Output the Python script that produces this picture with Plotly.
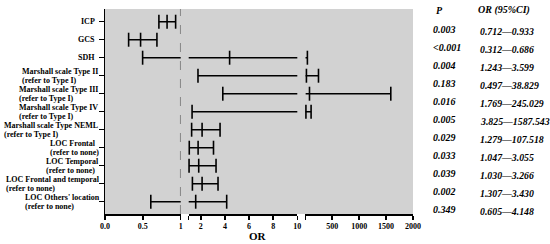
import plotly.graph_objects as go

# ---------------- data ----------------
row_labels = [
    "ICP",
    "GCS",
    "SDH",
    "Marshall scale Type II<br>(refer to Type I)",
    "Marshall scale Type III<br>(refer to Type I)",
    "Marshall scale Type IV<br>(refer to Type I)",
    "Marshall scale Type NEML<br>(refer to Type I)",
    "LOC Frontal<br>(refer to none)",
    "LOC Temporal<br>(refer to none)",
    "LOC Frontal and temporal<br>(refer to none)",
    "LOC Others' location<br>(refer to none)",
]
or_vals = [0.82, 0.47, 4.39, 20.8, 77.9, 11.7, 2.11, 1.78, 1.83, 2.11, 1.58]
ci_low = [0.712, 0.312, 0.497, 1.769, 3.825, 1.279, 1.243, 1.047, 1.030, 1.307, 0.605]
ci_high = [0.933, 0.686, 38.829, 245.029, 1587.543, 107.518, 3.599, 3.055, 3.266, 3.430, 4.148]
p_text = ["0.003", "<0.001", "0.004", "0.183", "0.016", "0.005",
          "0.029", "0.033", "0.039", "0.002", "0.349"]
ci_text = ["0.712\u20140.933", "0.312\u20140.686", "1.243\u20143.599",
           "0.497\u201438.829", "1.769\u2014245.029", "3.825\u20141587.543",
           "1.279\u2014107.518", "1.047\u20143.055", "1.030\u20143.266",
           "1.307\u20143.430", "0.605\u20144.148"]

seg1_ticks = [0, 0.5, 1]
seg1_text = ["0.0", "0.5", "1"]
seg2_ticks = [1, 2, 4, 6, 8, 10]
seg2_text = ["", "2", "4", "6", "8", "10"]
seg3_ticks = [0, 500, 1000, 1500, 2000]
seg3_text = ["", "500", "1000", "1500", "2000"]

# ---------------- layout constants ----------------
W, H = 550, 244
ML, MR, MT, MB = 105, 137, 9, 30
PW = W - ML - MR
PH = H - MT - MB
FONT = "Liberation Serif"
GRAY = "#d2d2d2"
LABEL_SIZE = 8

# Times-Bold advance widths (1/1000 em) for left-aligned label blocks
_TB = {" ": 250, "'": 278, "(": 333, ")": 333, "-": 333, ".": 250,
       "A": 722, "B": 667, "C": 722, "D": 722, "E": 667, "F": 611, "G": 778,
       "H": 778, "I": 389, "J": 500, "K": 778, "L": 667, "M": 944, "N": 722,
       "O": 778, "P": 611, "Q": 778, "R": 722, "S": 556, "T": 667, "U": 722,
       "V": 722, "W": 1000, "X": 722, "Y": 722, "Z": 667,
       "a": 500, "b": 556, "c": 444, "d": 556, "e": 444, "f": 333, "g": 500,
       "h": 556, "i": 278, "j": 333, "k": 556, "l": 278, "m": 833, "n": 556,
       "o": 500, "p": 556, "q": 556, "r": 444, "s": 389, "t": 333, "u": 556,
       "v": 500, "w": 722, "x": 500, "y": 500, "z": 444}


def text_w(s, size):
    return sum(_TB.get(c, 500) for c in s) * size / 1000.0


def px2dom(a, b):
    return [(a - ML) / PW, (b - ML) / PW]


# segments: axis name, value window, axis range, domain
segments = [
    ("x", (0, 1), [0, 1], px2dom(105, 180.7)),
    ("x2", (1, 10), [1, 10], px2dom(188.7, 297.3)),
    ("x3", (10, 2000), [0, 2000], px2dom(305.3, 413)),
]

fig = go.Figure()
n = len(row_labels)
for axname, (vmin, vmax), rng, dom in segments:
    lx, ly, mx, my = [], [], [], []
    for i in range(n):
        lo, hi, o = ci_low[i], ci_high[i], or_vals[i]
        if hi > vmin and lo < vmax:
            lx += [lo, hi, None]
            ly += [i, i, None]
        for v in (lo, hi, o):
            if vmin <= v <= vmax and not (axname == "x2" and v == vmin):
                mx.append(v)
                my.append(i)
    fig.add_trace(go.Scatter(x=lx, y=ly, mode="lines", xaxis=axname, yaxis="y",
                             line=dict(color="black", width=1.6),
                             hoverinfo="skip", showlegend=False))
    fig.add_trace(go.Scatter(x=mx, y=my, mode="markers", xaxis=axname, yaxis="y",
                             marker=dict(symbol="line-ns", size=10,
                                         line=dict(color="black", width=1.6)),
                             cliponaxis=False, hoverinfo="skip", showlegend=False))

axis_common = dict(showline=True, linecolor="black", linewidth=1.5,
                   ticks="outside", ticklen=4, tickwidth=1.5, tickcolor="black",
                   showgrid=False, zeroline=False, anchor="y",
                   tickfont=dict(family=FONT, size=8, color="black", weight="bold"))

fig.update_layout(
    xaxis=dict(domain=segments[0][3], range=segments[0][2],
               tickvals=seg1_ticks, ticktext=seg1_text, **axis_common),
    xaxis2=dict(domain=segments[1][3], range=segments[1][2],
                tickvals=seg2_ticks, ticktext=seg2_text, **axis_common),
    xaxis3=dict(domain=segments[2][3], range=segments[2][2],
                tickvals=seg3_ticks, ticktext=seg3_text, **axis_common),
    yaxis=dict(range=[10.683, -0.706], tickvals=list(range(n)), showticklabels=False,
               showline=True, linecolor="black", linewidth=1.5,
               ticks="outside", ticklen=5, tickwidth=1.5, tickcolor="black",
               showgrid=False, zeroline=False, anchor="x"),
    width=W, height=H, autosize=False,
    margin=dict(l=ML, r=MR, t=MT, b=MB),
    plot_bgcolor="rgba(0,0,0,0)", paper_bgcolor="white",
    showlegend=False,
)

# gray background across the whole broken-axis area
fig.add_shape(type="rect", xref="paper", yref="paper", x0=0, x1=1, y0=0, y1=1,
              fillcolor=GRAY, line=dict(width=0), layer="below")
# reference line at OR = 1
fig.add_shape(type="line", xref="x", yref="paper", x0=1, x1=1, y0=0, y1=1,
              line=dict(color="#6e6e6e", width=1.5, dash="dash"))

# row labels: each line its own annotation, block right-aligned to the axis,
# lines left-aligned inside the block, tight line spacing
LINE_GAP = 9.0
for i, lab in enumerate(row_labels):
    lines = lab.split("<br>")
    block_w = max(text_w(s, LABEL_SIZE) for s in lines)
    nl = len(lines)
    for k, s in enumerate(lines):
        ys = ((nl - 1) / 2.0 - k) * LINE_GAP
        if nl == 1:
            fig.add_annotation(x=0, xref="paper", y=i, yref="y", text="<b>%s</b>" % s,
                               xanchor="right", yanchor="middle", xshift=-8, yshift=ys,
                               showarrow=False,
                               font=dict(family=FONT, size=LABEL_SIZE, color="black"))
        else:
            fig.add_annotation(x=0, xref="paper", y=i, yref="y", text="<b>%s</b>" % s,
                               xanchor="left", yanchor="middle",
                               xshift=-8 - block_w, yshift=ys, showarrow=False,
                               font=dict(family=FONT, size=LABEL_SIZE, color="black"))

# right columns
P_X = (430.7 - ML) / PW
C_X = (478 - ML) / PW
for i in range(n):
    fig.add_annotation(x=P_X, xref="paper", y=i, yref="y", yshift=-7.5,
                       text="<b><i>%s</i></b>" % p_text[i], xanchor="left",
                       yanchor="middle", showarrow=False,
                       font=dict(family=FONT, size=10, color="black"))
    fig.add_annotation(x=C_X, xref="paper", y=i, yref="y", yshift=-10.2,
                       text="<b><i>%s</i></b>" % ci_text[i], xanchor="left",
                       yanchor="middle", showarrow=False,
                       font=dict(family=FONT, size=9.8, color="black"))

fig.add_annotation(x=(440 - ML) / PW, xref="paper", y=(H - MB - 10) / PH,
                   yref="paper", text="<b><i>P</i></b>", xanchor="center",
                   yanchor="middle", showarrow=False,
                   font=dict(family=FONT, size=10, color="black"))
fig.add_annotation(x=(503.5 - ML) / PW, xref="paper", y=(H - MB - 10) / PH,
                   yref="paper", text="<b><i>OR (95%CI)</i></b>", xanchor="center",
                   yanchor="middle", showarrow=False,
                   font=dict(family=FONT, size=10, color="black"))
fig.add_annotation(x=(258 - ML) / PW, xref="paper", y=(H - MB - 236) / PH,
                   yref="paper", text="<b>OR</b>", xanchor="center",
                   yanchor="middle", showarrow=False,
                   font=dict(family=FONT, size=11, color="black"))

fig.write_html("out.html",
               config={"displayModeBar": False, "staticPlot": True},
               post_script="document.body.style.margin='0px';document.body.style.overflow='hidden';")
